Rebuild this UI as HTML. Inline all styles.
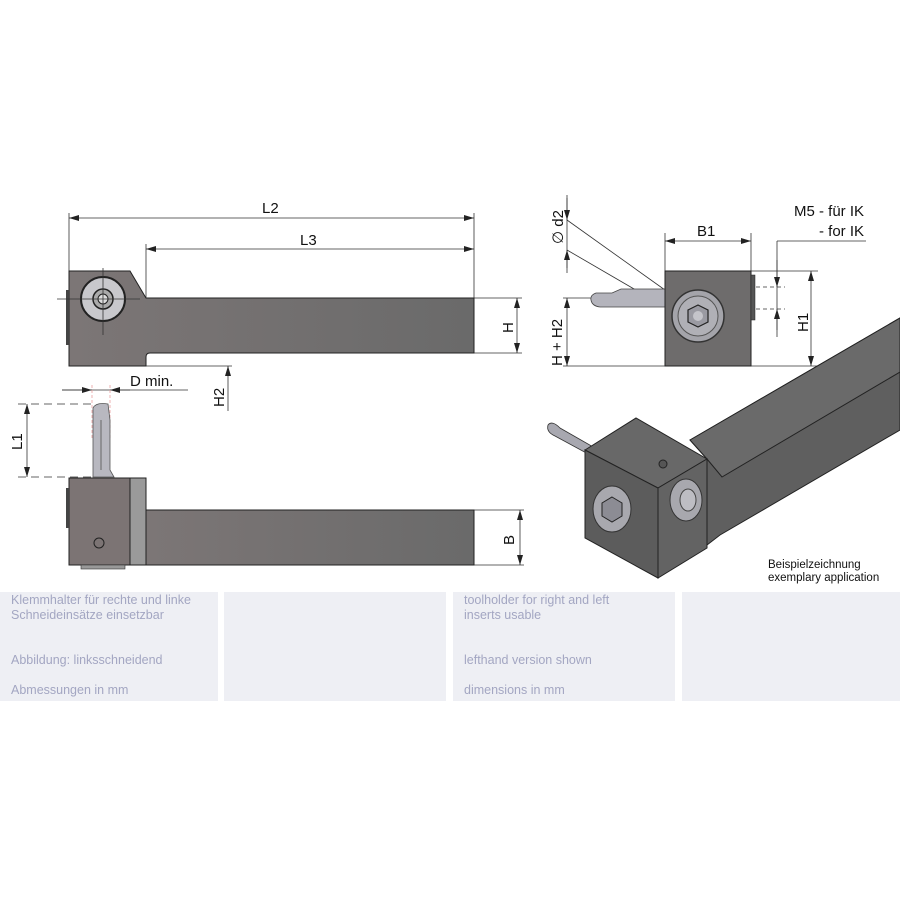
<!DOCTYPE html>
<html><head><meta charset="utf-8"><style>
body{margin:0;background:#fff;width:900px;height:900px;overflow:hidden;font-family:"Liberation Sans","DejaVu Sans",sans-serif}
.p{position:absolute;top:592px;height:109px;background:#eeeff4}
.t{position:absolute;font-size:12.5px;color:#a3a6c2;line-height:15px}
</style></head><body>
<svg width="900" height="900" style="position:absolute;left:0;top:0" font-family="Liberation Sans, DejaVu Sans, sans-serif">
<defs>
<marker id="a" viewBox="0 0 10 6" refX="10" refY="3" markerWidth="10" markerHeight="6" orient="auto-start-reverse" markerUnits="userSpaceOnUse"><path d="M0,0 L10,3 L0,6z" fill="#222"/></marker>
<linearGradient id="g" x1="0" x2="1"><stop offset="0" stop-color="#7c7676"/><stop offset="1" stop-color="#6a6a6a"/></linearGradient>
</defs>
<g stroke="#333" stroke-width="0.8" fill="none">
<!-- top view dims -->
<line x1="69" y1="213" x2="69" y2="271"/><line x1="474" y1="213" x2="474" y2="298"/><line x1="146" y1="244" x2="146" y2="298"/>
<line x1="69" y1="218" x2="474" y2="218" marker-start="url(#a)" marker-end="url(#a)"/>
<line x1="146" y1="249" x2="474" y2="249" marker-start="url(#a)" marker-end="url(#a)"/>
<line x1="474" y1="298" x2="522" y2="298"/><line x1="474" y1="353" x2="522" y2="353"/>
<line x1="517" y1="298" x2="517" y2="353" marker-start="url(#a)" marker-end="url(#a)"/>
<line x1="228" y1="322" x2="228" y2="353" marker-end="url(#a)"/>
<line x1="228" y1="411" x2="228" y2="366" marker-end="url(#a)"/>
<line x1="146" y1="366" x2="232" y2="366"/>
<line x1="62" y1="390" x2="188" y2="390"/>
<line x1="62" y1="390" x2="92" y2="390" marker-end="url(#a)"/>
<line x1="130" y1="390" x2="110" y2="390" marker-end="url(#a)"/>
<line x1="92" y1="385" x2="92" y2="440" stroke="#e8a0a0" stroke-dasharray="3,2"/>
<line x1="110" y1="385" x2="110" y2="440" stroke="#e8a0a0" stroke-dasharray="3,2"/>
<line x1="18" y1="404" x2="92" y2="404" stroke-dasharray="8,5"/>
<line x1="18" y1="477" x2="92" y2="477" stroke-dasharray="8,5"/>
<line x1="27" y1="404" x2="27" y2="477" marker-start="url(#a)" marker-end="url(#a)"/>
<line x1="474" y1="510" x2="524" y2="510"/><line x1="474" y1="565" x2="524" y2="565"/>
<line x1="520" y1="510" x2="520" y2="565" marker-start="url(#a)" marker-end="url(#a)"/>
</g>
<!-- top holder -->
<path d="M69,271 L130,271 L146,298 L474,298 L474,353 L150,353 Q146,353 146,357 L146,366 L69,366 Z" fill="url(#g)" stroke="#222" stroke-width="1"/>
<rect x="66" y="290" width="3" height="55" fill="#444"/>
<circle cx="103" cy="299" r="22" fill="#c8c8cc" stroke="#222" stroke-width="2"/>
<circle cx="103" cy="299" r="10" fill="#aaa" stroke="#222" stroke-width="1.5"/>
<circle cx="103" cy="299" r="5" fill="#ddd" stroke="#222"/>
<g stroke="#333" stroke-width="0.8"><line x1="57" y1="299" x2="140" y2="299"/><line x1="103" y1="268" x2="103" y2="335"/></g>
<!-- bottom holder -->
<path d="M93,408 Q96,402 108,404 L110,420 L110,470 L114,477 L93,477 Z" fill="#b8b8c0" stroke="#555" stroke-width="0.8"/>
<line x1="101" y1="420" x2="101" y2="470" stroke="#666"/>
<rect x="146" y="510" width="328" height="55" fill="url(#g)" stroke="#222"/>
<rect x="69" y="478" width="61" height="87" fill="#7c7474" stroke="#222"/>
<rect x="130" y="478" width="16" height="87" fill="#9a9a9a" stroke="#222"/>
<rect x="66" y="488" width="3" height="40" fill="#444"/>
<rect x="81" y="565" width="44" height="4" fill="#999" stroke="#333" stroke-width="0.6"/>
<circle cx="99" cy="543" r="5" fill="none" stroke="#222"/>
<!-- text -->
<g font-size="15" fill="#111">
<text x="262" y="213">L2</text><text x="300" y="245">L3</text>
<text x="130" y="386">D min.</text>
<text transform="translate(513,333) rotate(-90)">H</text>
<text transform="translate(224,407) rotate(-90)">H2</text>
<text transform="translate(22,450) rotate(-90)">L1</text>
<text transform="translate(514,545) rotate(-90)">B</text>
<text x="697" y="236">B1</text>
<text x="864" y="216" text-anchor="end">M5 - für IK</text>
<text x="864" y="236" text-anchor="end">- for IK</text>
<text transform="translate(808,332) rotate(-90)">H1</text>
<text transform="translate(562,366) rotate(-90)">H + H2</text>
<text transform="translate(563,244) rotate(-90)">∅ d2</text>
</g>
<!-- right view dims -->
<g stroke="#333" stroke-width="0.8" fill="none">
<line x1="665" y1="233" x2="665" y2="271"/><line x1="751" y1="233" x2="751" y2="271"/>
<line x1="665" y1="241" x2="751" y2="241" marker-start="url(#a)" marker-end="url(#a)"/>
<line x1="751" y1="271" x2="818" y2="271"/><line x1="665" y1="366" x2="818" y2="366"/>
<line x1="811" y1="271" x2="811" y2="366" marker-start="url(#a)" marker-end="url(#a)"/>
<line x1="777" y1="241" x2="866" y2="241"/><line x1="777" y1="241" x2="777" y2="337"/>
<line x1="777" y1="260" x2="777" y2="287" marker-end="url(#a)"/>
<line x1="777" y1="330" x2="777" y2="309" marker-end="url(#a)"/>
<line x1="735" y1="287" x2="785" y2="287" stroke-dasharray="4,3"/>
<line x1="735" y1="309" x2="785" y2="309" stroke-dasharray="4,3"/>
<line x1="563" y1="298" x2="665" y2="298"/><line x1="563" y1="366" x2="665" y2="366"/>
<line x1="567" y1="298" x2="567" y2="366" marker-start="url(#a)" marker-end="url(#a)"/>
<line x1="567" y1="195" x2="567" y2="273"/>
<line x1="567" y1="198" x2="567" y2="220" marker-end="url(#a)"/>
<line x1="567" y1="268" x2="567" y2="250" marker-end="url(#a)"/>
<line x1="567" y1="220" x2="665" y2="290"/><line x1="567" y1="250" x2="665" y2="307"/>
</g>
<path d="M591,300 Q590,295 596,293 L612,293 L621,289 L665,289 L665,307 L600,307 Q592,306 591,300Z" fill="#b4b4bc" stroke="#444" stroke-width="0.8"/>
<rect x="665" y="271" width="86" height="95" fill="#6e6c6c" stroke="#222"/>
<rect x="751" y="275" width="4" height="45" fill="#555" stroke="#222" stroke-width="0.5"/>
<circle cx="698" cy="316" r="26" fill="#a4a4aa" stroke="#333" stroke-width="1.5"/>
<circle cx="698" cy="316" r="20" fill="#b0b0b6" stroke="#555"/>
<polygon points="698,305 708,310 708,322 698,327 688,322 688,310" fill="#9a9aa2" stroke="#222" stroke-width="1.2"/>
<circle cx="698" cy="316" r="5" fill="#c4c4ca"/>
<!-- 3D view -->
<path d="M690,440 L900,318 L900,430 L720,535 L707,545 L707,459Z" fill="#5f5f5f" stroke="#222"/>
<path d="M690,440 L900,318 L900,372 L722,477 L707,459Z" fill="#6a6a6a" stroke="#222"/>
<path d="M548,425 Q546,432 555,436 L590,455 L595,448 L560,428 Q552,420 548,425Z" fill="#a8a8b0" stroke="#333" stroke-width="0.8"/>
<polygon points="585,450 636,418 707,459 658,488" fill="#686868" stroke="#222"/>
<polygon points="585,450 658,488 658,578 585,538" fill="#5c5c5c" stroke="#222"/>
<polygon points="658,488 707,459 707,548 658,578" fill="#636363" stroke="#222"/>
<circle cx="663" cy="464" r="4" fill="#555" stroke="#222"/>
<ellipse cx="612" cy="509" rx="19" ry="23" fill="#a8a8ae" stroke="#333"/>
<polygon points="612,497 622,503 622,516 612,522 602,516 602,503" fill="#8c8c94" stroke="#222"/>
<ellipse cx="686" cy="500" rx="16" ry="21" fill="#a8a8ae" stroke="#333"/>
<ellipse cx="688" cy="500" rx="8" ry="11" fill="#bdbdc3" stroke="#444"/>
<text x="768" y="568" font-size="11.5" fill="#111">Beispielzeichnung</text>
<text x="768" y="581" font-size="11.5" fill="#111">exemplary application</text>
</svg>
<div class="p" style="left:0;width:218px"></div>
<div class="p" style="left:224px;width:222px"></div>
<div class="p" style="left:453px;width:222px"></div>
<div class="p" style="left:682px;width:218px"></div>
<div class="t" style="left:11px;top:593px">Klemmhalter für rechte und linke<br>Schneideinsätze einsetzbar</div>
<div class="t" style="left:11px;top:653px">Abbildung: linksschneidend</div>
<div class="t" style="left:11px;top:683px">Abmessungen in mm</div>
<div class="t" style="left:464px;top:593px">toolholder for right and left<br>inserts usable</div>
<div class="t" style="left:464px;top:653px">lefthand version shown</div>
<div class="t" style="left:464px;top:683px">dimensions in mm</div>
</body></html>
